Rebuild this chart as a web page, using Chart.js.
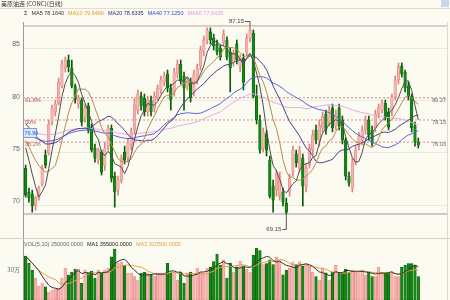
<!DOCTYPE html>
<html>
<head>
<meta charset="utf-8">
<script src="https://cdn.jsdelivr.net/npm/chart.js@4.4.1/dist/chart.umd.min.js"></script>
<style>
  html, body { margin: 0; padding: 0; background: #fcfbf2; overflow: hidden; width: 450px; height: 300px; }
  #wrap { position: relative; width: 450px; height: 300px; }
  .pane { position: absolute; left: 0; width: 450px; }
  #pricePane { top: 0; height: 238px; }
  #volPane { top: 238px; height: 62px; }
</style>
</head>
<body>
<div id="wrap">
  <div class="pane" id="pricePane"><canvas id="price" width="450" height="238"></canvas></div>
  <div class="pane" id="volPane"><canvas id="vol" width="450" height="62"></canvas></div>
</div>
<script>
// Daily OHLC of the continuous crude contract, oldest first
const opens = [
  73.55, 71.25, 71.06, 70.00, 70.67, 72.01, 74.79, 74.98, 77.95, 78.91,
  79.77, 81.40, 83.13, 83.89, 83.13, 81.40, 79.68, 80.06, 78.34, 79.49,
  77.38, 75.46, 74.31, 75.08, 73.74, 75.65, 77.38, 72.78, 71.44, 72.40,
  75.08, 74.50, 75.75, 77.19, 79.10, 80.44, 80.25, 78.91, 80.06, 79.29,
  80.25, 81.02, 81.78, 82.55, 81.21, 80.83, 82.55, 83.51, 82.36, 81.40,
  81.78, 80.83, 81.98, 83.32, 84.66, 85.81, 86.58, 86.00, 85.43, 85.04,
  85.52, 85.81, 84.66, 83.70, 85.43, 83.32, 84.08, 84.66, 86.00, 86.48,
  80.44, 78.15, 75.46, 76.80, 74.31, 71.82, 71.44, 70.86, 71.25, 70.19,
  71.25, 73.16, 74.89, 73.55, 74.50, 71.82, 73.83, 75.27, 77.19, 76.23,
  77.38, 78.72, 77.95, 79.29, 77.57, 79.29, 78.15, 76.23, 72.78, 71.63,
  74.12, 75.65, 76.23, 77.19, 78.15, 77.19, 77.38, 78.72, 79.10, 79.77,
  78.91, 78.91, 80.35, 81.98, 83.32, 82.74, 81.40, 80.44, 77.57, 76.04
];
const highs = [
  73.83, 71.63, 71.44, 70.86, 71.82, 73.83, 75.27, 78.15, 79.58, 80.06,
  82.17, 83.89, 84.18, 84.37, 83.89, 81.59, 80.54, 80.25, 79.68, 79.77,
  77.76, 75.85, 75.46, 75.27, 76.04, 77.67, 77.67, 73.16, 72.78, 74.79,
  75.65, 76.42, 77.38, 80.25, 81.02, 80.83, 80.64, 80.44, 80.44, 80.83,
  81.50, 82.36, 82.74, 82.93, 81.59, 83.13, 83.89, 83.89, 82.74, 82.26,
  82.17, 82.93, 83.51, 85.23, 86.19, 86.96, 86.96, 86.38, 85.81, 85.33,
  86.77, 86.10, 85.04, 84.85, 85.81, 84.37, 84.47, 86.38, 87.15, 86.77,
  81.50, 78.62, 77.38, 77.19, 74.70, 72.40, 73.35, 73.16, 71.63, 70.67,
  72.97, 75.65, 75.27, 75.65, 74.89, 73.93, 75.85, 77.19, 77.67, 78.15,
  78.91, 79.10, 79.49, 79.68, 79.10, 79.68, 78.53, 76.42, 73.16, 74.50,
  75.65, 77.00, 77.57, 78.53, 78.53, 77.57, 79.10, 79.68, 80.06, 80.06,
  79.29, 80.64, 82.36, 83.61, 83.61, 82.93, 81.78, 80.64, 77.95, 76.42
];
const lows = [
  70.77, 70.29, 69.33, 69.52, 70.48, 71.82, 73.55, 74.79, 77.67, 78.53,
  79.58, 81.21, 82.74, 82.74, 81.21, 79.77, 79.29, 77.57, 77.95, 76.90,
  75.08, 74.12, 73.93, 72.88, 73.35, 75.27, 72.21, 69.81, 70.96, 72.11,
  73.93, 74.12, 75.27, 76.80, 78.72, 79.10, 78.53, 78.53, 78.53, 78.91,
  80.06, 80.64, 81.40, 80.83, 79.10, 80.44, 82.17, 81.59, 79.10, 81.02,
  79.87, 80.44, 81.59, 82.93, 84.28, 85.43, 85.43, 84.85, 84.37, 83.89,
  85.23, 83.89, 80.83, 83.32, 83.51, 82.74, 81.02, 84.28, 85.62, 80.25,
  77.76, 74.98, 75.08, 74.70, 70.67, 69.33, 70.86, 70.48, 69.91, 69.15,
  70.86, 72.78, 73.64, 73.16, 69.91, 71.25, 73.55, 74.79, 75.85, 75.65,
  77.00, 76.80, 77.57, 77.00, 77.19, 77.19, 75.85, 72.40, 71.82, 71.25,
  73.83, 75.27, 75.85, 76.80, 76.23, 75.65, 77.00, 78.34, 78.82, 78.15,
  77.19, 78.53, 80.06, 81.59, 82.26, 80.83, 80.06, 77.00, 75.65, 75.46
];
const closes = [
  70.96, 70.67, 69.91, 70.67, 71.63, 73.55, 73.83, 77.76, 79.29, 79.68,
  81.78, 83.51, 83.89, 83.22, 81.40, 80.06, 80.25, 77.95, 79.29, 77.19,
  75.27, 74.50, 75.27, 73.16, 75.46, 77.38, 72.59, 71.25, 72.40, 74.50,
  74.31, 76.04, 77.00, 79.58, 80.64, 79.49, 78.91, 80.06, 78.91, 80.44,
  81.21, 81.98, 82.36, 81.21, 80.06, 82.74, 83.51, 81.98, 81.21, 81.98,
  80.25, 82.55, 83.13, 84.85, 85.81, 86.77, 85.81, 85.23, 84.66, 84.18,
  86.38, 84.18, 83.13, 84.56, 83.89, 84.08, 81.78, 86.00, 86.77, 80.44,
  78.15, 75.27, 77.00, 75.27, 70.86, 70.48, 72.97, 72.78, 70.29, 69.33,
  72.59, 75.27, 74.03, 75.27, 71.82, 73.55, 75.46, 76.71, 76.23, 77.67,
  78.53, 77.19, 79.10, 77.38, 78.72, 77.57, 76.23, 72.78, 72.11, 74.12,
  75.27, 76.61, 77.19, 78.15, 76.71, 75.94, 78.72, 79.39, 79.77, 78.43,
  77.47, 80.35, 81.98, 83.32, 82.55, 81.21, 80.44, 77.38, 76.04, 75.75
];
const volumes = [
  471000, 393000, 321000, 236000, 150000, 182000, 140000,  86000, 107000, 118000,
  128000, 236000, 343000, 268000, 300000, 332000, 332000, 182000, 321000, 289000,
  311000, 236000, 321000, 289000, 321000, 343000, 461000, 546000, 393000, 407000,
  375000, 289000, 289000, 250000, 214000, 289000, 300000, 289000, 268000, 250000,
  289000, 289000, 289000, 393000, 289000, 300000, 214000, 300000, 182000, 289000,
  300000, 268000, 343000, 300000, 289000, 343000, 353000, 411000, 493000, 375000,
  429000, 236000, 396000, 300000, 354000, 418000, 350000, 330000, 300000, 482000,
  557000, 530000, 380000, 390000, 430000, 380000, 460000, 420000, 270000, 320000,
  340000, 410000, 380000, 410000, 360000, 380000, 360000, 300000, 250000, 214000,
  340000, 290000, 214000, 300000, 370000, 290000, 290000, 330000, 300000, 320000,
  300000, 290000, 320000, 270000, 300000, 250000, 250000, 350000, 290000, 290000,
  290000, 290000, 250000, 250000, 350000, 375000, 390000, 390000, 370000, 250000
];

const priceTicks = [70, 75, 80, 85];
const volumeTicks = [300000];
const maPeriods = [5, 10, 20, 40, 60];
// level at which each average enters on the first bar
const maEntryLevels = [75.5, 76.2, 77.8, 76.9, 77.3];
const maColors = ['#4d4d4d', '#b7894a', '#4a3a8c', '#5b63d3', '#e4a9e4'];
const maLabelColors = ['#333333', '#e39a2d', '#2a2a86', '#3346dc', '#e49ae4'];
const volMaPeriods = [5, 10];
const volMaColors = ['#333333', '#e3a04a'];
const fibRatios = [0.618, 0.5, 0.382];
const cursorPrice = 76.90;
const title = '美原油连 (CONC)(日线)';

const X_MIN = -0.8, X_MAX = 127.7;
const PRICE_MIN = 66.85, PRICE_MAX = 87.53;
const VOL_MAX = 664000;

// Simple moving average. Bars before the first one are unknown; their mean is
// taken from the level at which the average enters (entry * n - first) / (n - 1).
function movingAverage(values, n, entry) {
  const prior = entry === undefined ? null : (entry * n - values[0]) / (n - 1);
  return values.map((_, i) => {
    const from = Math.max(0, i - n + 1);
    const win = values.slice(from, i + 1);
    const sum = win.reduce((a, b) => a + b, 0);
    if (prior === null) return sum / win.length;
    return (sum + prior * (n - win.length)) / n;
  });
}

// keep the plot area fixed: no extra room reserved for edge labels
function fixAxis(s) {
  s.width = 23;
  s.paddingTop = 0;
  s.paddingBottom = 0;
}

const idx = closes.map((_, i) => i);
const isUp = closes.map((c, i) => c >= opens[i]);
const upFill = '#f6b3b0', upEdge = '#e3817e';
const downFill = '#138b13', downEdge = '#0a5a0a';

const hiIdx = highs.indexOf(Math.max(...highs));
const loIdx = lows.indexOf(Math.min(...lows));
const fibHigh = highs[hiIdx], fibLow = lows[loIdx];
const fibLevels = fibRatios.map(r => fibLow + r * (fibHigh - fibLow));

const maSeries = maPeriods.map((n, k) => movingAverage(closes, n, maEntryLevels[k]));
const volMaSeries = volMaPeriods.map(n => movingAverage(volumes, n));

function hLine(value, color, dash, order) {
  return {
    type: 'line', order,
    data: [{ x: X_MIN, y: value }, { x: X_MAX, y: value }],
    borderColor: color, borderWidth: 1, borderDash: dash,
    pointRadius: 0
  };
}

const priceDatasets = [
  hLine(fibHigh, '#b7a1ab', [], 30),
  hLine(fibLow, '#a98ea8', [], 30),
  ...fibLevels.map(v => hLine(v, '#cf8f8f', [2, 2], 30)),
  {
    type: 'bar', order: 20, grouped: false, barThickness: 1,
    data: idx.map(i => ({ x: i, y: [lows[i], highs[i]] })),
    backgroundColor: isUp.map(u => u ? upEdge : downEdge)
  },
  {
    type: 'bar', order: 10, grouped: false, barThickness: 2.6, minBarLength: 1,
    borderSkipped: false, borderWidth: 0.6,
    data: idx.map(i => ({ x: i, y: [opens[i], closes[i]] })),
    backgroundColor: isUp.map(u => u ? upFill : downFill),
    borderColor: isUp.map(u => u ? upEdge : downEdge)
  },
  ...maSeries.map((s, k) => ({
    type: 'line', order: 1,
    data: s.map((v, i) => ({ x: i, y: v })),
    borderColor: maColors[k], borderWidth: 1, pointRadius: 0, tension: 0
  }))
];

function drawSegments(ctx, segs, x, y, gap) {
  segs.forEach(([text, color]) => {
    ctx.fillStyle = color;
    ctx.fillText(text, x, y);
    x += ctx.measureText(text).width + gap;
  });
}

const priceOverlay = {
  id: 'priceOverlay',
  afterDraw(chart) {
    const { ctx, chartArea, scales: { x, y } } = chart;
    ctx.save();
    ctx.textBaseline = 'middle';

    // title bar
    ctx.font = '6px "Noto Sans CJK SC"';
    ctx.fillStyle = '#333';
    ctx.textAlign = 'left';
    ctx.fillText(title, 1, 4);
    ctx.strokeStyle = '#e2ded2';
    ctx.lineWidth = 1;
    ctx.beginPath(); ctx.moveTo(0, 8.5); ctx.lineTo(450, 8.5); ctx.stroke();
    ctx.fillStyle = '#c9d6ea';
    ctx.fillRect(441, 0, 8, 7);

    // moving-average legend
    ctx.font = '5.5px "Liberation Sans"';
    const last = s => s[s.length - 1].toFixed(4);
    drawSegments(ctx, [['Σ', '#333']].concat(maPeriods.map((n, k) => ['MA' + n + ' ' + last(maSeries[k]), maLabelColors[k]])), 24, 13.5, 4);

    // right frame edge
    ctx.strokeStyle = '#ddd9cf';
    ctx.beginPath(); ctx.moveTo(chartArea.right + 0.5, 22); ctx.lineTo(chartArea.right + 0.5, 238); ctx.stroke();

    // retracement labels
    ctx.font = '5.5px "Liberation Sans"';
    fibRatios.forEach((r, k) => {
      const py = y.getPixelForValue(fibLevels[k]);
      ctx.textAlign = 'left';
      ctx.fillStyle = '#c0504d';
      ctx.fillText(String(+(r * 100).toFixed(1)) + '%', chartArea.left + 2, py + 2.5);
      ctx.textAlign = 'right';
      ctx.fillStyle = '#666';
      ctx.fillText(fibLevels[k].toFixed(2), chartArea.right - 1, py + 2.5);
    });

    // extreme price markers
    ctx.font = '6px "Liberation Sans"';
    ctx.fillStyle = '#444';
    ctx.strokeStyle = '#555';
    const hx = x.getPixelForValue(hiIdx), hy = y.getPixelForValue(fibHigh);
    ctx.textAlign = 'right';
    ctx.fillText(fibHigh.toFixed(2), hx - 6, 21);
    ctx.beginPath(); ctx.moveTo(hx - 5, 21.5); ctx.lineTo(hx, 21.5); ctx.lineTo(hx, hy); ctx.stroke();
    const lx = x.getPixelForValue(loIdx), ly = y.getPixelForValue(fibLow);
    ctx.fillText(fibLow.toFixed(2), lx - 5, 229);
    ctx.beginPath(); ctx.moveTo(lx - 4, 229.5); ctx.lineTo(lx, 229.5); ctx.lineTo(lx, ly); ctx.stroke();

    // cursor price tag on the axis
    const cy = y.getPixelForValue(cursorPrice);
    ctx.fillStyle = '#dfe8fa';
    ctx.strokeStyle = '#7d97da';
    ctx.fillRect(chartArea.left + 0.5, cy - 4.5, 13, 9);
    ctx.strokeRect(chartArea.left + 0.5, cy - 4.5, 13, 9);
    ctx.fillStyle = '#3355cc';
    ctx.font = '5.5px "Liberation Sans"';
    ctx.textAlign = 'left';
    ctx.fillText(cursorPrice.toFixed(2), chartArea.left + 1.5, cy + 0.5);
    ctx.restore();
  }
};

new Chart(document.getElementById('price'), {
  type: 'bar',
  data: { datasets: priceDatasets },
  plugins: [priceOverlay],
  options: {
    responsive: true, maintainAspectRatio: false, animation: false, devicePixelRatio: 1,
    layout: { padding: { top: 22, right: 3, left: 0, bottom: 0 } },
    plugins: { legend: { display: false }, tooltip: { enabled: false } },
    scales: {
      x: { type: 'linear', min: X_MIN, max: X_MAX, offset: false, display: false },
      y: {
        min: PRICE_MIN, max: PRICE_MAX, position: 'left',
        afterFit: fixAxis,
        afterBuildTicks: s => { s.ticks = priceTicks.map(v => ({ value: v })); },
        ticks: { color: '#666', font: { size: 7, family: 'Liberation Sans' }, padding: 3, labelOffset: -4 },
        grid: { color: '#ece8dc', drawTicks: false },
        border: { display: true, color: '#9c9a94' }
      }
    }
  }
});

const volOverlay = {
  id: 'volOverlay',
  afterDraw(chart) {
    const { ctx, chartArea } = chart;
    ctx.save();
    ctx.strokeStyle = '#d4d0c6';
    ctx.lineWidth = 1;
    ctx.beginPath(); ctx.moveTo(0, 0.5); ctx.lineTo(450, 0.5); ctx.stroke();
    ctx.strokeStyle = '#ddd9cf';
    ctx.beginPath(); ctx.moveTo(chartArea.right + 0.5, 0); ctx.lineTo(chartArea.right + 0.5, 62); ctx.stroke();
    ctx.font = '5.5px "Liberation Sans"';
    ctx.textBaseline = 'middle';
    const last = s => s[s.length - 1].toFixed(4);
    drawSegments(ctx, [
      ['VOL(' + volMaPeriods.join(',') + ') ' + volumes[volumes.length - 1].toFixed(4), '#666'],
      ['MA1 ' + last(volMaSeries[0]), '#222'],
      ['MA2 ' + last(volMaSeries[1]), volMaColors[1]]
    ], 24, 6.5, 4);
    ctx.restore();
  }
};

new Chart(document.getElementById('vol'), {
  type: 'bar',
  data: {
    datasets: [
      {
        type: 'bar', order: 10, grouped: false, barThickness: 2.6,
        borderSkipped: false, borderWidth: 0.6,
        data: idx.map(i => ({ x: i, y: volumes[i] })),
        backgroundColor: isUp.map(u => u ? upFill : downFill),
        borderColor: isUp.map(u => u ? upEdge : downEdge)
      },
      ...volMaSeries.map((s, k) => ({
        type: 'line', order: 1,
        data: s.map((v, i) => ({ x: i, y: v })),
        borderColor: volMaColors[k], borderWidth: 1, pointRadius: 0, tension: 0
      }))
    ]
  },
  plugins: [volOverlay],
  options: {
    responsive: true, maintainAspectRatio: false, animation: false, devicePixelRatio: 1,
    layout: { padding: { top: 0, right: 3, left: 0, bottom: 0 } },
    plugins: { legend: { display: false }, tooltip: { enabled: false } },
    scales: {
      x: { type: 'linear', min: X_MIN, max: X_MAX, offset: false, display: false },
      y: {
        min: 0, max: VOL_MAX, position: 'left',
        afterFit: fixAxis,
        afterBuildTicks: s => { s.ticks = volumeTicks.map(v => ({ value: v })); },
        ticks: {
          color: '#666', font: { size: 6, family: 'Noto Sans CJK SC' }, padding: 3, labelOffset: -2,
          callback: v => (v / 10000) + '万'
        },
        grid: { display: false, drawTicks: false },
        border: { display: true, color: '#9c9a94' }
      }
    }
  }
});
</script>
</body>
</html>
